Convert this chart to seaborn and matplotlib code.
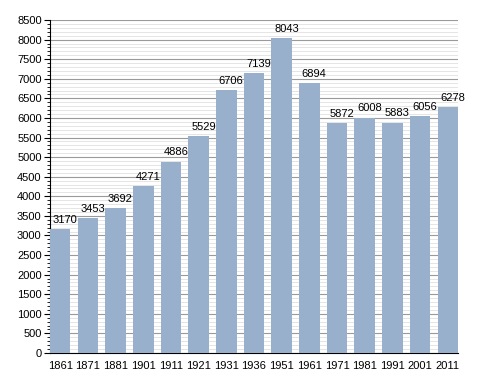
import pandas as pd
import matplotlib.pyplot as plt
import seaborn as sns
from matplotlib.ticker import MultipleLocator
from matplotlib.transforms import offset_copy

# Census years and population
years = ['1861', '1871', '1881', '1901', '1911', '1921', '1931', '1936',
         '1951', '1961', '1971', '1981', '1991', '2001', '2011']
population = [3170, 3453, 3692, 4271, 4886, 5529, 6706, 7139,
              8043, 6894, 5872, 6008, 5883, 6056, 6278]

data = pd.DataFrame({'year': years, 'population': population})

sns.set_style('white')
plt.rcParams['font.family'] = ['Liberation Sans', 'DejaVu Sans']
plt.rcParams['text.color'] = 'black'
plt.rcParams['xtick.color'] = 'black'
plt.rcParams['ytick.color'] = 'black'

fig = plt.figure(figsize=(4.88, 3.73), dpi=100)
ax = fig.add_axes([50 / 488, 20 / 373, 408 / 488, 333 / 373])

sns.barplot(data=data, x='year', y='population', color='#98b0cc',
            saturation=1, width=0.74, linewidth=0, ax=ax, zorder=3)

# value labels on top of bars, nudged a bit to the right like the original
trans = offset_copy(ax.transData, fig=fig, x=3.5, y=3, units='points')
for i, v in enumerate(population):
    ax.text(i, v, str(v), ha='center', va='bottom', fontsize=8,
            transform=trans, zorder=4)

ax.set_ylim(0, 8500)
ax.set_xlim(-0.37, 14.37)
ax.yaxis.set_major_locator(MultipleLocator(500))
ax.yaxis.set_minor_locator(MultipleLocator(100))
ax.grid(axis='y', which='major', color='#9a9a9a', linewidth=0.8, zorder=0)
ax.grid(axis='y', which='minor', color='#e0e0e0', linewidth=0.6, zorder=0)
ax.set_axisbelow(True)

for s in ['top', 'right']:
    ax.spines[s].set_visible(False)
ax.spines['left'].set_color('black')
ax.spines['bottom'].set_color('black')
ax.spines['left'].set_linewidth(0.8)
ax.spines['bottom'].set_linewidth(0.8)

ax.tick_params(axis='y', which='major', left=True, length=4, width=0.8, labelsize=8, pad=2)
ax.tick_params(axis='y', which='minor', left=True, length=2, width=0.6)
ax.tick_params(axis='x', bottom=False, labelsize=8, pad=2)
ax.set_xlabel('')
ax.set_ylabel('')

fig.savefig('out.png', dpi=100)
